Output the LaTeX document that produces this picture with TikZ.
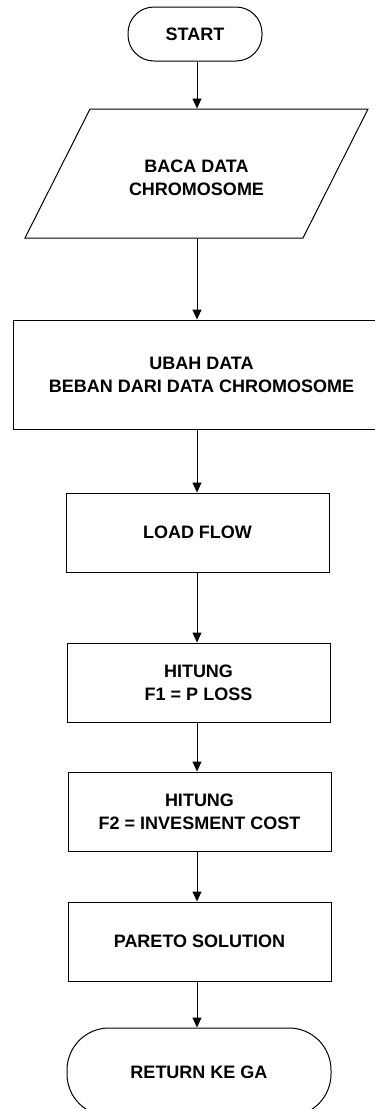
\documentclass[tikz,border=0pt]{standalone}
\usepackage{fontspec}
\setmainfont{Liberation Sans}
\usetikzlibrary{arrows.meta}
\begin{document}
\begin{tikzpicture}[x=1pt,y=-1pt,
  line width=1pt,
  txt/.style={align=center, font=\fontsize{18}{23}\selectfont\bfseries, inner sep=0pt},
  procbox/.style={draw, rectangle, txt},
  termbox/.style={draw, rectangle, txt},
  arr/.style={-{Triangle[length=10pt,width=9pt]}}]
\useasboundingbox (0,0) rectangle (375,1109);
\coordinate (axis) at (197,0);
% nodes
\node[termbox, rounded corners=26pt, minimum width=134pt, minimum height=54pt] (start) at (195,34) {START};
\node[txt, minimum width=213pt, minimum height=129pt] (baca) at (196.5,173.5) {};
\node[txt] (bacatxt) at (196.5,178) {BACA DATA\\CHROMOSOME};
\draw (90,109) -- (368,109) -- (303,238) -- (25,238) -- cycle;
\node[procbox, minimum width=377pt, minimum height=109pt] (ubah) at (201.5,374.5) {UBAH DATA\\BEBAN DARI DATA CHROMOSOME};
\node[procbox, minimum width=263pt, minimum height=79pt] (load) at (197.5,532.5) {LOAD FLOW};
\node[procbox, minimum width=263pt, minimum height=79pt] (f1) at (198.5,682.5) {HITUNG\\F1 = P LOSS};
\node[procbox, minimum width=263pt, minimum height=79pt] (f2) at (199.5,811.5) {HITUNG\\F2 = INVESMENT COST};
\node[procbox, minimum width=263pt, minimum height=79pt] (pareto) at (199.5,941.5) {PARETO SOLUTION};
\node[termbox, rounded corners=42pt, minimum width=264pt, minimum height=88pt] (ret) at (199,1072) {RETURN KE GA};
% connectors
\draw[arr] (start.south -| axis) -- (baca.north -| axis);
\draw[arr] (baca.south -| axis) -- (ubah.north -| axis);
\draw[arr] (ubah.south -| axis) -- (load.north -| axis);
\draw[arr] (load.south -| axis) -- (f1.north -| axis);
\draw[arr] (f1.south -| axis) -- (f2.north -| axis);
\draw[arr] (f2.south -| axis) -- (pareto.north -| axis);
\draw[arr] (pareto.south -| axis) -- (ret.north -| axis);
\end{tikzpicture}
\end{document}
